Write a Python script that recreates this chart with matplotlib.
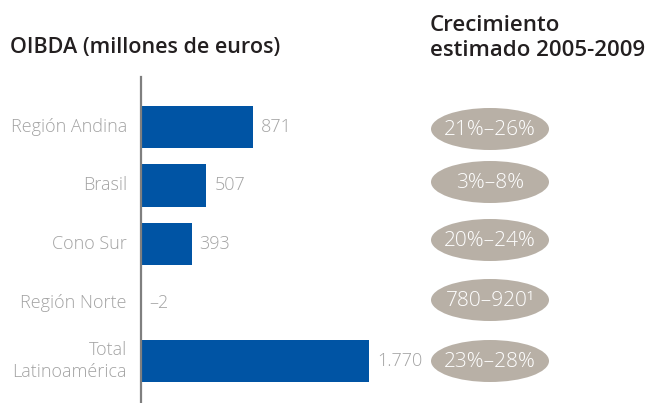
import matplotlib
matplotlib.use("Agg")
import matplotlib.pyplot as plt
from matplotlib.patches import Ellipse

categories = ["Región Andina", "Brasil", "Cono Sur", "Región Norte", "Total\nLatinoamérica"]
values = [871, 507, 393, -2, 1770]
value_labels = ["871", "507", "393", "–2", "1.770"]
growth = ["21%–26%", "3%–8%", "20%–24%", "780–920¹", "23%–28%"]

W, H = 649, 403
fig = plt.figure(figsize=(W / 100, H / 100), dpi=100)
plt.rcParams['font.family'] = ['Open Sans', 'DejaVu Sans']

BLUE = "#0054a4"
GRAY = "#a3a3a3"
TAUPE = "#b8b0a6"
DARK = "#231f20"

def fx(px):
    return px / W

def fy(py):
    return 1 - py / H

ax_left, ax_right = 141, 649
ax_top, ax_bottom = 77, 403
ax = fig.add_axes([fx(ax_left), fy(ax_bottom), fx(ax_right - ax_left), (ax_bottom - ax_top) / H])
xmax = 1770 * (ax_right - ax_left) / (369 - 141)
ax.set_xlim(0, xmax)
c0, step = 127, 58.5
ymin = (ax_top - c0) / step
ymax = (ax_bottom - c0) / step
ax.set_ylim(ymax, ymin)
ypos = list(range(len(categories)))
ax.barh(ypos, values, height=0.72, color=BLUE, zorder=2)
px2d = xmax / (ax_right - ax_left)
for y, v, lab in zip(ypos, values, value_labels):
    ax.text(max(v, 0) + 8 * px2d, y, lab, va="center", ha="left", color=GRAY,
            fontsize=13, fontweight="light")
for y, c in zip(ypos, categories):
    ax.text(-14 * px2d, y, c, va="center", ha="right", color=GRAY,
            fontsize=13, fontweight="light", linespacing=1.35)
for s in ["top", "right", "bottom"]:
    ax.spines[s].set_visible(False)
ax.spines["left"].set_color("#7f7f7f")
ax.spines["left"].set_linewidth(1.6)
ax.set_xticks([])
ax.set_yticks([])

ax2 = fig.add_axes([0, 0, 1, 1], facecolor="none")
ax2.set_xlim(0, W)
ax2.set_ylim(H, 0)
ax2.axis("off")
ell_cy = [129, 182, 240, 300, 361]
for cy, g in zip(ell_cy, growth):
    ax2.add_patch(Ellipse((490, cy), 118, 42, facecolor=TAUPE, edgecolor="none"))
    ax2.text(490, cy + 1, g, ha="center", va="center", color="white", fontsize=15,
             fontweight="light")

fig.text(fx(10), fy(47), "OIBDA (millones de euros)", ha="left", va="center",
         color=DARK, fontsize=15.5, fontweight="semibold")
fig.text(fx(430), fy(38), "Crecimiento\nestimado 2005-2009", ha="left", va="center",
         color=DARK, fontsize=16, fontweight="semibold", linespacing=1.2)

fig.savefig("out.png", dpi=100)
